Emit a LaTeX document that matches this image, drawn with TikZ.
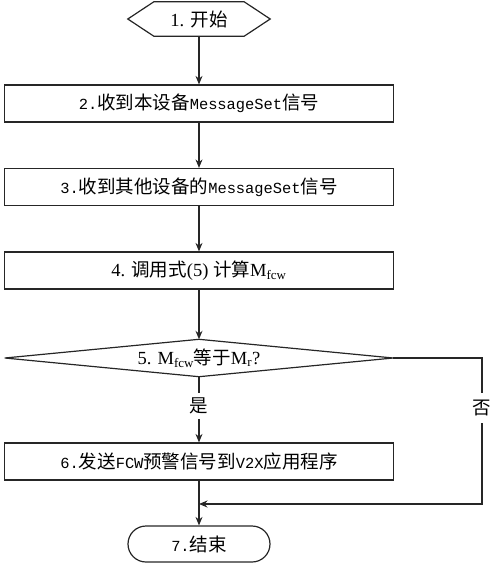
\documentclass[tikz,border=0pt]{standalone}
\usepackage{fontspec}
\setmainfont{Liberation Serif}
\newfontfamily\cjk{Noto Sans CJK SC}
\newfontfamily\hw[Scale=0.833]{Liberation Mono}
\usetikzlibrary{arrows.meta,calc,shapes.misc}
\tikzset{
  every node/.style={font=\fontsize{18.5}{22}\selectfont, text=black},
  ln/.style={line width=1.2pt, draw=black!85},
  arr/.style={ln, -{Stealth[length=8.5pt,width=7pt]}},
  stepbox/.style={ln, draw, rectangle, minimum width=389pt, minimum height=37pt, inner sep=0pt},
  hexnode/.style={minimum width=142pt, minimum height=34pt, inner sep=0pt},
  decnode/.style={minimum width=388pt, minimum height=37pt, inner sep=0pt},
  termnode/.style={ln, draw, rounded rectangle, minimum width=142pt, minimum height=36pt, inner sep=0pt},
  lbl/.style={inner xsep=2pt}
}
\begin{document}
\begin{tikzpicture}[x=1pt,y=-1pt]
\useasboundingbox (0,0) rectangle (496,563);
% start hexagon
\node[hexnode] (s1) at (199,19) {1. {\cjk 开始}};
\draw[ln] ($(s1.north west)+(26,0)$) -- ($(s1.north east)+(-26,0)$) -- (s1.east)
  -- ($(s1.south east)+(-26,0)$) -- ($(s1.south west)+(26,0)$) -- (s1.west) -- cycle;
% boxes
\node[stepbox] (b2) at (199,103.5) {{\hw 2.}{\cjk 收到本设备}{\hw MessageSet}{\cjk 信号}};
\node[stepbox] (b3) at (199,187) {{\hw 3.}{\cjk 收到其他设备的}{\hw MessageSet}{\cjk 信号}};
\node[stepbox] (b4) at (199,270.5) {4. {\cjk 调用式}(5) {\cjk 计算}M\textsubscript{fcw}};
% decision
\node[decnode] (d5) at (199,358) {5. M\textsubscript{fcw}{\cjk 等于}M\textsubscript{r}?};
\draw[ln] (d5.west) -- (d5.north) -- (d5.east) -- (d5.south) -- cycle;
\node[stepbox] (b6) at (199,461.5) {{\hw 6.}{\cjk 发送}{\hw FCW}{\cjk 预警信号到}{\hw V2X}{\cjk 应用程序}};
% end
\node[termnode] (e7) at (199,544) {{\hw 7.}{\cjk 结束}};
% labels
\node[lbl, inner ysep=4.5pt] (yes) at (199,406) {\cjk 是};
\node[lbl, inner ysep=7pt] (no) at (482,408) {\cjk 否};
\coordinate (j) at (199,504);
% connectors
\draw[arr] (s1.south) -- (b2.north);
\draw[arr] (b2.south) -- (b3.north);
\draw[arr] (b3.south) -- (b4.north);
\draw[arr] (b4.south) -- (d5.north);
\draw[ln] (d5.south) -- (yes.north);
\draw[arr] (yes.south) -- (b6.north);
\draw[ln] (d5.east) -| (no.north);
\draw[arr] (no.south) |- (j);
\draw[arr] (b6.south) -- (e7.north);
\end{tikzpicture}
\end{document}
